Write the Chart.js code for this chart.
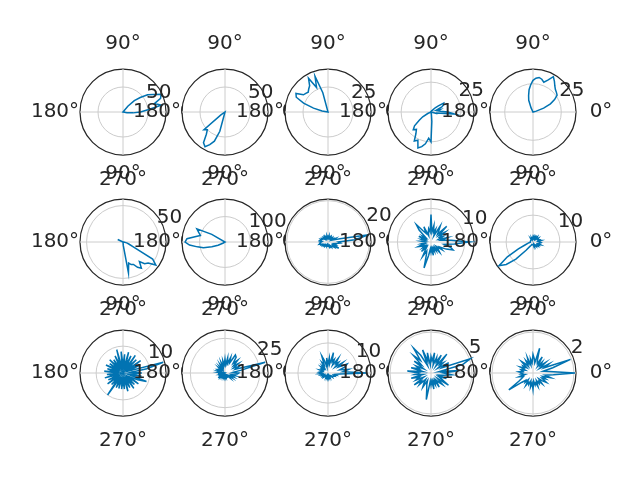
<!DOCTYPE html>
<html>
<head>
<meta charset="utf-8">
<script src="https://cdn.jsdelivr.net/npm/chart.js@4.4.1/dist/chart.umd.min.js"></script>
<style>
html,body{margin:0;padding:0;background:#fff;}
#fig{position:relative;width:640px;height:480px;overflow:hidden;}
#fig canvas{position:absolute;}
</style>
</head>
<body>
<div id="fig"></div>
<script>
// angle of each sample, degrees counter-clockwise from the right
const angles = [0,5,10,15,20,25,30,35,40,45,50,55,60,65,70,75,80,85,
  90,95,100,105,110,115,120,125,130,135,140,145,150,155,160,165,170,175,
  180,185,190,195,200,205,210,215,220,225,230,235,240,245,250,255,260,265,
  270,275,280,285,290,295,300,305,310,315,320,325,330,335,340,345,350,355];

const thetaLabels = [0, 90, 180, 270];

// radial tick shown on each panel and the radius at the outer ring
const rTicks = [50, 50, 25, 25, 25, 50, 100, 20, 10, 10, 10, 25, 10, 5, 2];
const rMax = [86, 86, 43, 36, 38, 59, 169, 20.8, 12.8, 16, 16, 31, 14.3, 5.25, 2.1];

const panel1 = [35,50,78,65,80,84,70,60,45,32,15,0,0,0,0,0,0,0,
  0,0,0,0,0,0,0,0,0,0,0,0,0,0,0,0,0,0,
  0,0,0,0,0,0,0,0,0,0,0,0,0,0,0,0,0,0,
  0,0,0,0,0,0,0,0,0,0,0,0,0,0,0,0,8,20];
const panel2 = [0,0,0,0,0,0,0,0,0,0,0,0,0,0,0,0,0,0,
  0,0,0,0,0,0,0,0,0,0,0,0,0,0,0,0,0,0,
  0,0,0,0,0,0,0,10,55,50,58,75,80,72,62,40,0,0,
  0,0,0,0,0,0,0,0,0,0,0,0,0,0,0,0,0,0];
const panel3 = [0,0,0,0,0,0,0,0,0,0,0,0,0,0,0,0,0,0,
  0,0,0,20,38,27,39,32,30,28,29,30,37,35,26,15,6,0,
  0,0,0,0,0,0,0,0,0,0,0,0,0,0,0,0,0,0,
  0,0,0,0,0,0,0,0,0,0,0,0,0,0,0,0,0,0];
const panel4 = [14,8,6,8,5,10,12,13,8,5,2,1,1,1,0,0,0,0,
  0,0,0,0,0,0,0,0,0,0,0,0,0,0,0,0,0,0,
  0,0,0,0,0,3,8,12,18,21,19,22,28,26,32,30,27,22,
  25,8,2,0,0,0,0,0,0,0,0,0,0,0,0,5,5,20];
const panel5 = [0,0,0,3,10,17,22,26,27,28,30,33,36,31,28,30,31,30,
  28,24,20,15,11,4,0,0,0,0,0,0,0,0,0,0,0,0,
  0,0,0,0,0,0,0,0,0,0,0,0,0,0,0,0,0,0,
  0,0,0,0,0,0,0,0,0,0,0,0,0,0,0,0,0,0];
const panel6 = [0,0,0,0,0,0,0,0,0,0,0,0,0,0,0,0,0,0,
  0,0,0,0,0,0,0,0,0,0,0,0,0,8,0,0,0,0,
  0,0,0,0,0,0,0,0,0,0,0,0,0,0,0,0,0,0,
  0,5,43,30,33,34,40,44,35,42,45,55,47,15,9,6,3,1];
const panel7 = [0,0,0,0,0,0,0,0,0,0,0,0,0,0,0,0,0,0,
  0,0,0,0,0,0,0,0,0,0,0,0,60,122,110,100,120,150,
  157,140,110,88,55,30,10,0,0,0,0,0,0,0,0,0,0,0,
  0,0,0,0,0,0,0,0,0,0,0,0,0,0,0,0,0,0];
const panel8 = [5,13,20,6,3,4,2,3,2.5,3,2,2.5,3,2,2.5,2,3,2,
  2.5,2,3,2,2.5,3,2,3,2.5,3,2,3,3.5,3,4,3.5,4,3,
  4,3.5,4,4.5,3,3.5,2.5,3,2,2.5,2,2.5,2,2,1.5,2,1.5,2,
  2,1.5,2,2.5,2,2.5,2,3,2.5,3,4,3,6,3,4,3,4,6];
const panel9 = [11.5,6,3,5,2.5,4,3,5,3,6.6,3,4,5.5,2,4,3,5,3,
  8.2,3,4,3,2,5,3,4,6.8,5,2,3,2,4,2,3,2,3,
  1.5,2,3,2,4,3,2,3,2,4,2,3,5,3,4,8,4,2,
  3,2,4,2,3,2,3,2,4,3,2,4,3,5,7,6,4,7];
const panel10 = [2.5,2,3,2,2.5,2,2,2.5,1.5,2,2.5,1.5,2,1.5,2,1.5,2,1.5,
  2,1.5,1.5,1,1.5,1,1,1.5,1,1,1,1,1,1,1,1,1,1,
  1,1,1.5,2,3,6,11,15.4,13,9,4,2,1.5,1,1,1,1,1,
  1,1,1.5,1,1.5,1,1.5,2,1.5,2,2.5,2,2.5,2,3,2,2.5,3];
const panel11 = [7,3,9,15.5,2,7,3,8,2,7,3,8,2,7,3,8,2,7,
  3,8,2,9,3,7,2,6,3,7,2,6,3,7,2,6,3,7,
  2,6,3,7,2,6,3,7,2,6,3,10,2,6,3,6,2,6,
  3,6,2,7,3,6,2,7,3,6,2,7,3,6,9.3,2,7,3];
const panel12 = [10,6,12,30,8,11,7,12,8,13,9,14,15,8,12,7,11,6,
  10,6,9,5,8,4,7,4,6,3,6,4,5,6,3,5,3,5,
  3,5,2,4,3,5,2,6,3,4,2,3,2,3,2,3,2,3,
  2,3,2,3,2,4,2,3,3,5,3,6,4,7,5,8,5,9];
const panel13 = [13,5,7,4,6,7,4,6,3,5,4,6,3,5,4,7,3,5,
  3,5,2,4,6,3,4,2,3,2,3,2,2.5,2,3,2,2.5,3,
  2,3,2,2.5,1.5,2,1.5,2,1.5,2,1.5,1.5,1,1.5,1,1.5,1,1.5,
  1,1.5,1,1.5,1,1.5,1,1.5,1.5,2,1.5,2,2,2.5,2,3,2.5,4];
const panel14 = [1.5,3.5,1,4,5.1,1.5,2.5,1,2,1.5,3,1,2.5,1.5,2,1,2.5,1.5,
  2,1,2.5,1.5,3,1,2.5,3.7,2,3,1.5,2.5,1,2,1.5,2.5,1,2.9,
  1.5,2,1,2.5,1.5,2,1,2.5,1.5,2,1,1.5,2,1,1.5,2,3.3,1,
  1.5,1,2,1,1.5,1,2,1,1.5,2,1,2.6,1.5,1,2,1,1.5,2.5];
const panel15 = [2.05,0.8,0.5,1.0,1.95,0.6,0.9,0.4,0.8,0.5,0.7,0.4,0.9,0.5,0.6,1.25,0.5,0.7,
  0.9,0.5,0.7,0.4,0.8,0.5,0.7,0.4,0.6,0.8,0.4,0.6,0.5,0.7,0.4,0.6,0.5,0.7,
  0.5,0.6,0.4,0.7,0.5,0.6,0.8,1.44,0.7,0.5,0.6,0.4,0.7,0.5,0.6,0.4,0.7,0.5,
  0.8,0.4,0.6,0.5,0.7,0.4,0.6,0.5,0.7,0.4,0.6,0.8,0.5,0.7,0.5,0.9,0.6,1.0];

const panels = [panel1,panel2,panel3,panel4,panel5,panel6,panel7,panel8,
  panel9,panel10,panel11,panel12,panel13,panel14,panel15];

const colX = [123, 225, 328, 431, 533];
const rowY = [112, 242, 373];
const SIZE = 200, PAD = 57;
const FONT = '20px "DejaVu Sans"';
const TEXT = '#262626';

// chart.js goes clockwise from the top, matplotlib counter-clockwise from the right
const n = angles.length;
const step = 360 / n;
const order = [];
for (let i = 0; i < n; i++) {
  const a = ((90 - i * step) % 360 + 360) % 360;
  order.push(angles.indexOf(a));
}

const labelPlugin = {
  id: 'polarLabels',
  beforeDraw(chart) {
    // white face of the axes, hides labels of earlier panels underneath
    const s = chart.scales.r;
    const c = chart.ctx;
    c.save();
    c.beginPath();
    c.arc(s.xCenter, s.yCenter, s.drawingArea, 0, Math.PI * 2);
    c.fillStyle = '#ffffff';
    c.fill();
    c.restore();
  },
  afterDraw(chart, args, opts) {
    const s = chart.scales.r;
    const c = chart.ctx;
    const R = s.drawingArea;
    c.save();
    c.font = FONT;
    c.fillStyle = TEXT;
    c.textAlign = 'center';
    c.textBaseline = 'middle';
    thetaLabels.forEach(a => {
      const t = a * Math.PI / 180;
      c.fillText(a + '°', s.xCenter + (R + 25) * Math.cos(t), s.yCenter - (R + 25) * Math.sin(t));
    });
    const d = s.getDistanceFromCenterForValue(opts.tick);
    const t = 22.5 * Math.PI / 180;
    c.textAlign = 'left';
    c.textBaseline = 'bottom';
    c.fillText(String(opts.tick), s.xCenter + d * Math.cos(t), s.yCenter - d * Math.sin(t));
    c.restore();
  }
};

const fig = document.getElementById('fig');

panels.forEach((values, p) => {
  const cx = colX[p % 5], cy = rowY[Math.floor(p / 5)];
  const canvas = document.createElement('canvas');
  canvas.width = SIZE;
  canvas.height = SIZE;
  canvas.style.left = (cx - SIZE / 2) + 'px';
  canvas.style.top = (cy - SIZE / 2) + 'px';
  fig.appendChild(canvas);

  const tick = rTicks[p], max = rMax[p];

  new Chart(canvas, {
    type: 'radar',
    data: {
      labels: order.map(k => angles[k]),
      datasets: [{
        data: order.map(k => values[k]),
        borderColor: '#0173b2',
        borderWidth: 1.5,
        pointRadius: 0,
        fill: false
      }]
    },
    options: {
      responsive: false,
      animation: false,
      events: [],
      layout: { padding: PAD },
      plugins: {
        legend: { display: false },
        tooltip: { enabled: false },
        polarLabels: { tick: tick }
      },
      scales: {
        r: {
          min: 0,
          max: max,
          startAngle: 0,
          afterBuildTicks: axis => {
            axis.ticks = [{ value: 0 }, { value: tick }, { value: max }];
          },
          ticks: { display: false },
          grid: {
            circular: true,
            color: ctx => ctx.index === 2 ? '#262626' : '#cccccc',
            lineWidth: ctx => ctx.index === 2 ? 1.25 : 1
          },
          angleLines: {
            display: true,
            color: ctx => ctx.index % (n / 4) === 0 ? '#cccccc' : 'rgba(0,0,0,0)',
            lineWidth: 1
          },
          pointLabels: { display: false }
        }
      }
    },
    plugins: [labelPlugin]
  });
});
</script>
</body>
</html>
